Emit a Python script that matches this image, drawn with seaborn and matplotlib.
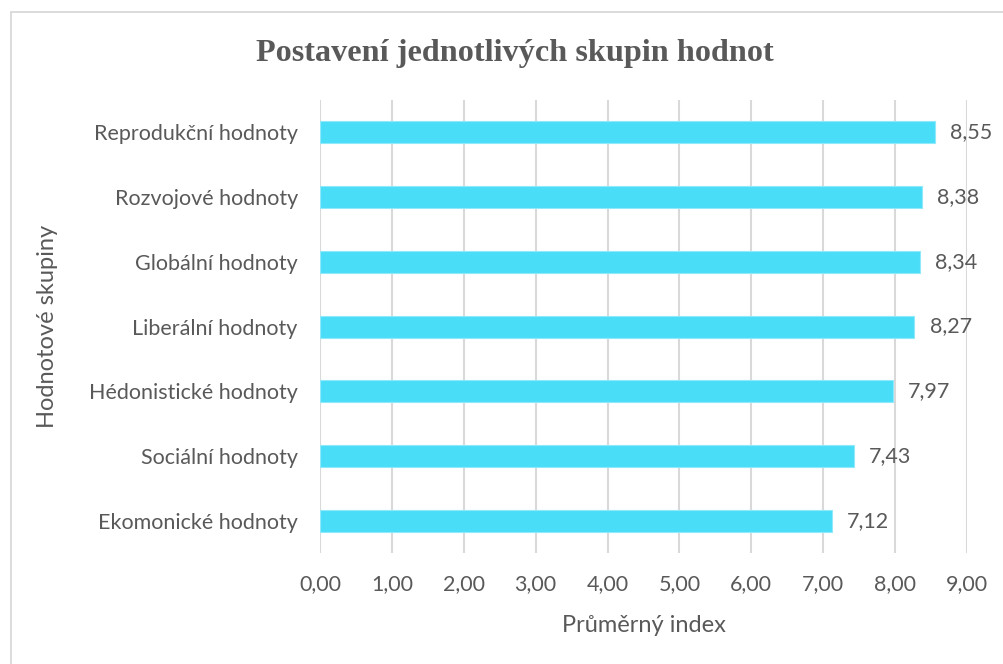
import matplotlib
matplotlib.use('Agg')
import matplotlib.pyplot as plt
import seaborn as sns
import pandas as pd
from matplotlib.lines import Line2D
from matplotlib.ticker import FuncFormatter

# Data
categories = ['Reprodukční hodnoty', 'Rozvojové hodnoty', 'Globální hodnoty', 'Liberální hodnoty',
              'Hédonistické hodnoty', 'Sociální hodnoty', 'Ekomonické hodnoty']
values = [8.55, 8.38, 8.34, 8.27, 7.97, 7.43, 7.12]

df = pd.DataFrame({'skupina': categories, 'index': values})

sns.set_theme(style='white')
plt.rcParams['font.family'] = ['Lato', 'DejaVu Sans']

txt = '#595959'
fig = plt.figure(figsize=(10.04, 6.64), dpi=100)
ax = fig.add_axes([0.3187, 0.1672, 0.6444, 0.682])

sns.barplot(data=df, x='index', y='skupina', color='#4ADDF8', width=0.34,
            saturation=1, edgecolor='#8FE9FA', linewidth=0.8, ax=ax, zorder=3)

for i, v in enumerate(values):
    ax.text(v + 0.21, i, f'{v:.2f}'.replace('.', ','), va='center', ha='left',
            fontsize=15.5, color=txt)

ax.set_xlim(0, 9)
ax.set_xticks(range(0, 10))
ax.xaxis.set_major_formatter(FuncFormatter(lambda x, p: f'{x:.2f}'.replace('.', ',')))
ax.grid(axis='x', color='#D9D9D9', linewidth=1.5, zorder=0)
ax.grid(axis='y', visible=False)
for s in ax.spines.values():
    s.set_visible(False)
ax.tick_params(axis='both', length=0, labelsize=15.5, colors=txt)
ax.tick_params(axis='x', pad=15)
ax.tick_params(axis='y', pad=16)

ax.set_xlabel('Průměrný index', fontsize=17, color=txt, labelpad=15)
ax.set_ylabel('Hodnotové skupiny', fontsize=17, color=txt, labelpad=22)

fig.suptitle('Postavení jednotlivých skupin hodnot', x=0.513, y=0.92, va='center',
             fontsize=23.2, fontweight='bold', color=txt, family=['Liberation Serif', 'DejaVu Serif'])

# chart frame: only top and left edges are visible
fig.add_artist(Line2D([0.011, 1.0], [0.982, 0.982], transform=fig.transFigure,
                      color='#D9D9D9', linewidth=1.3))
fig.add_artist(Line2D([0.011, 0.011], [0.0, 0.982], transform=fig.transFigure,
                      color='#D9D9D9', linewidth=1.3))

fig.savefig('out.png', dpi=100)
